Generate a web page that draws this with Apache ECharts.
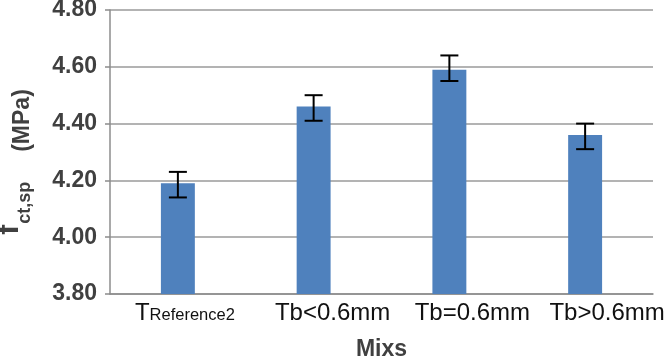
<!DOCTYPE html>
<html>
<head>
<meta charset="utf-8">
<script src="https://cdn.jsdelivr.net/npm/echarts@6/dist/echarts.min.js"></script>
<style>html,body{margin:0;padding:0;background:#fff;}#c{width:668px;height:358px;}</style>
</head>
<body>
<div id="c"></div>
<script>
var categories = ['TReference2', 'Tb<0.6mm', 'Tb=0.6mm', 'Tb>0.6mm'];
var values = [4.19, 4.46, 4.59, 4.36];
var errLow = [4.14, 4.41, 4.55, 4.31];
var errHigh = [4.23, 4.50, 4.64, 4.40];
var yTicks = { min: 3.8, max: 4.8, interval: 0.2 };

var chart = echarts.init(document.getElementById('c'), null, { renderer: 'canvas' });
var font = 'Arial, "Liberation Sans", sans-serif';
var errData = categories.map(function (c, i) { return [i, errLow[i], errHigh[i]]; });
var labelPad = [14, 38, 46, 44];
var rich = {
  T: { fontFamily: font, fontSize: 24, color: '#111111', verticalAlign: 'bottom', padding: [0, 0, 0, labelPad[0]] },
  r: { fontFamily: font, fontSize: 16.5, color: '#111111', verticalAlign: 'bottom', padding: [0, 0, 1, 0] }
};
for (var k = 1; k < 4; k++) {
  rich['a' + k] = { fontFamily: font, fontSize: 24, color: '#111111', padding: [0, 0, 0, labelPad[k]] };
}

chart.setOption({
  animation: false,
  backgroundColor: '#ffffff',
  grid: { left: 110, right: 15, top: 10, bottom: 64, containLabel: false, outerBoundsMode: 'none' },
  xAxis: {
    type: 'category',
    data: categories,
    name: 'Mixs',
    nameLocation: 'middle',
    nameGap: 44,
    nameTextStyle: { fontFamily: font, fontSize: 23, fontWeight: 'bold', color: '#404040' },
    axisLine: { lineStyle: { color: '#8c8c8c', width: 1.5 } },
    axisTick: { show: false },
    axisLabel: {
      interval: 0,
      margin: 7,
      fontFamily: font,
      fontSize: 24,
      color: '#111111',
      formatter: function (v, idx) {
        if (v.indexOf('TReference') === 0) return '{T|T}{r|' + v.slice(1) + '}';
        return '{a' + idx + '|' + v + '}';
      },
      rich: rich
    }
  },
  yAxis: {
    type: 'value',
    min: yTicks.min,
    max: yTicks.max,
    interval: yTicks.interval,
    name: '{f|f}{s|ct,sp}{m|(MPa)}',
    nameLocation: 'middle',
    nameRotate: 90,
    nameGap: 76,
    nameTextStyle: {
      fontFamily: font,
      fontWeight: 'bold',
      color: '#404040',
      padding: [0, 20, 0, 0],
      rich: {
        f: { fontFamily: font, fontSize: 30, fontWeight: 'bold', color: '#404040', verticalAlign: 'bottom', padding: [0, 1, 9, 0] },
        s: { fontFamily: font, fontSize: 18, fontWeight: 'bold', color: '#404040', verticalAlign: 'bottom', padding: [0, 30, 0, 0] },
        m: { fontFamily: font, fontSize: 23, fontWeight: 'bold', color: '#404040', verticalAlign: 'bottom' }
      }
    },
    axisLine: { show: true, lineStyle: { color: '#8c8c8c', width: 1.5 } },
    axisTick: { show: true, inside: false, length: 5, lineStyle: { color: '#8c8c8c', width: 1.5 } },
    axisLabel: {
      margin: 13,
      fontFamily: font,
      fontSize: 23,
      fontWeight: 'bold',
      color: '#404040',
      formatter: function (v) { return v.toFixed(2); }
    },
    splitLine: { show: true, lineStyle: { color: '#9a9a9a', width: 1.5 } }
  },
  series: [
    {
      type: 'bar',
      data: values,
      barWidth: '25%',
      itemStyle: { color: '#4f81bd' }
    },
    {
      type: 'custom',
      data: errData,
      z: 10,
      renderItem: function (params, api) {
        var x = api.value(0);
        var lo = api.coord([x, api.value(1)]);
        var hi = api.coord([x, api.value(2)]);
        var half = 9;
        var st = { stroke: '#000000', lineWidth: 2 };
        return {
          type: 'group',
          children: [
            { type: 'line', shape: { x1: hi[0], y1: hi[1], x2: lo[0], y2: lo[1] }, style: st },
            { type: 'line', shape: { x1: hi[0] - half, y1: hi[1], x2: hi[0] + half, y2: hi[1] }, style: st },
            { type: 'line', shape: { x1: lo[0] - half, y1: lo[1], x2: lo[0] + half, y2: lo[1] }, style: st }
          ]
        };
      }
    }
  ]
});
</script>
</body>
</html>
